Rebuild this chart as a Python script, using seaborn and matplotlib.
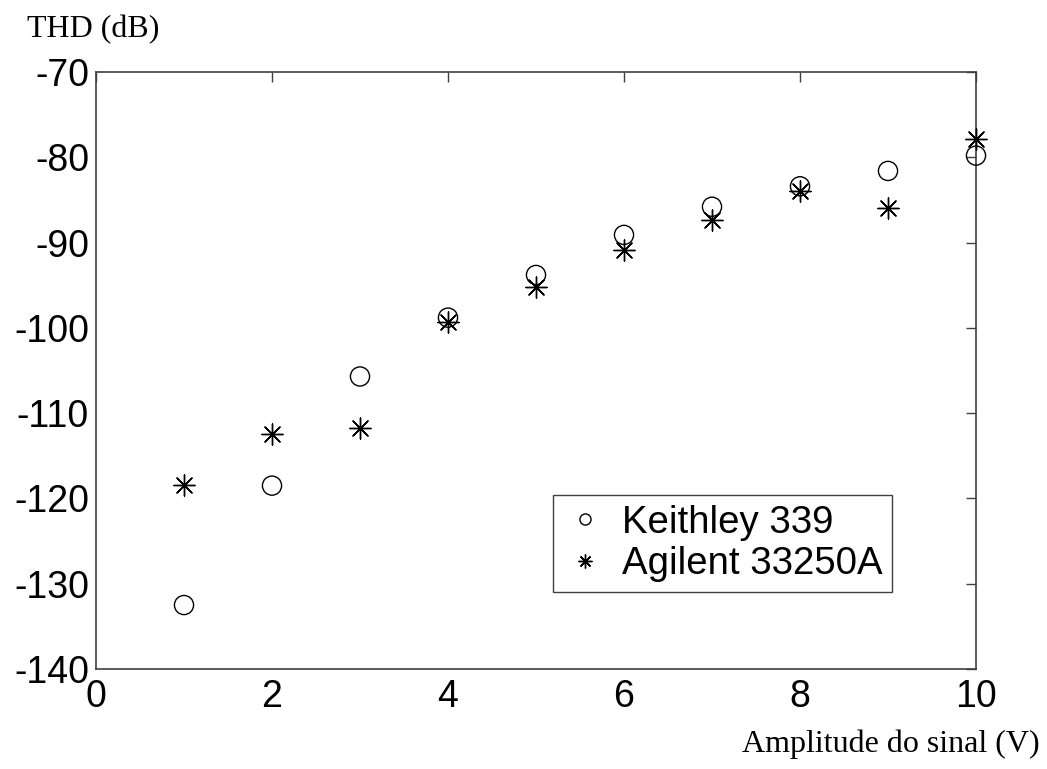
import matplotlib
matplotlib.use("Agg")
import matplotlib.pyplot as plt
import seaborn as sns
import pandas as pd

# Measured THD versus signal amplitude for two signal generators
amplitude = [1, 2, 3, 4, 5, 6, 7, 8, 9, 10]
keithley_thd = [-132.5, -118.5, -105.7, -98.8, -93.8, -89.1, -85.8, -83.4, -81.6, -79.8]
agilent_thd = [-118.4, -112.4, -111.8, -99.3, -95.2, -90.9, -87.4, -83.9, -85.9, -77.8]
series_names = ["Keithley 339", "Agilent 33250A"]
x_ticks = [0, 2, 4, 6, 8, 10]
y_ticks = [-140, -130, -120, -110, -100, -90, -80, -70]

keithley = pd.DataFrame({"amplitude": amplitude, "thd": keithley_thd})
agilent = pd.DataFrame({"amplitude": amplitude, "thd": agilent_thd})

sns.set_style("white")
plt.rcParams["font.family"] = ["Liberation Sans", "DejaVu Sans"]
plt.rcParams["axes.unicode_minus"] = False
plt.rcParams["text.color"] = "black"
plt.rcParams["xtick.labelcolor"] = "black"
plt.rcParams["ytick.labelcolor"] = "black"

fig = plt.figure(figsize=(10.47, 7.69), dpi=100)
ax = fig.add_axes([96 / 1047, 1 - 669 / 769, 880 / 1047, 597 / 769])

asterisk = (8, 2, 0)
# Hollow circles for the Keithley generator
sns.scatterplot(data=keithley, x="amplitude", y="thd", marker="o", s=190,
                facecolors="none", edgecolor="black", linewidth=1.0,
                ax=ax, zorder=3, clip_on=False)
# Asterisks for the Agilent generator
sns.scatterplot(data=agilent, x="amplitude", y="thd", marker=asterisk, s=230,
                color="black", linewidth=1.0, ax=ax, zorder=3, clip_on=False)

ax.set_xlim(0, 10)
ax.set_ylim(-140, -70)
ax.set_xticks(x_ticks)
ax.set_yticks(y_ticks)
ax.set_xlabel("")
ax.set_ylabel("")
ax.tick_params(direction="in", length=7, width=1, top=True, right=True,
               labelsize=27, colors="#404040", labelcolor="black")
ax.tick_params(axis="x", pad=7)
ax.tick_params(axis="y", pad=5)
for sp in ax.spines.values():
    sp.set_color("#404040")
    sp.set_linewidth(1.2)

# Legend with small markers
h1 = plt.Line2D([], [], ls="none", marker="o", mfc="none", mec="black", ms=8, mew=1)
h2 = plt.Line2D([], [], ls="none", marker=asterisk, color="black", ms=10, mew=1)
leg = ax.legend([h1, h2], series_names, loc="lower left",
                bbox_to_anchor=(0.519, 0.129), fontsize=27.6, frameon=True,
                fancybox=False, edgecolor="#404040", framealpha=1,
                borderpad=0.25, handletextpad=0.35, handlelength=1.2,
                labelspacing=0.15, borderaxespad=0)
leg.get_frame().set_linewidth(1.0)
for t in leg.get_texts():
    t.set_color("black")

fig.text(27 / 1047, 1 - 37 / 769, "THD (dB)", fontsize=23,
         family=["Liberation Serif", "DejaVu Serif"], ha="left", va="baseline")
fig.text(1040 / 1047, 1 - 752 / 769, "Amplitude do sinal (V)", fontsize=23,
         family=["Liberation Serif", "DejaVu Serif"], ha="right", va="baseline")

fig.savefig("out.png", dpi=100)
